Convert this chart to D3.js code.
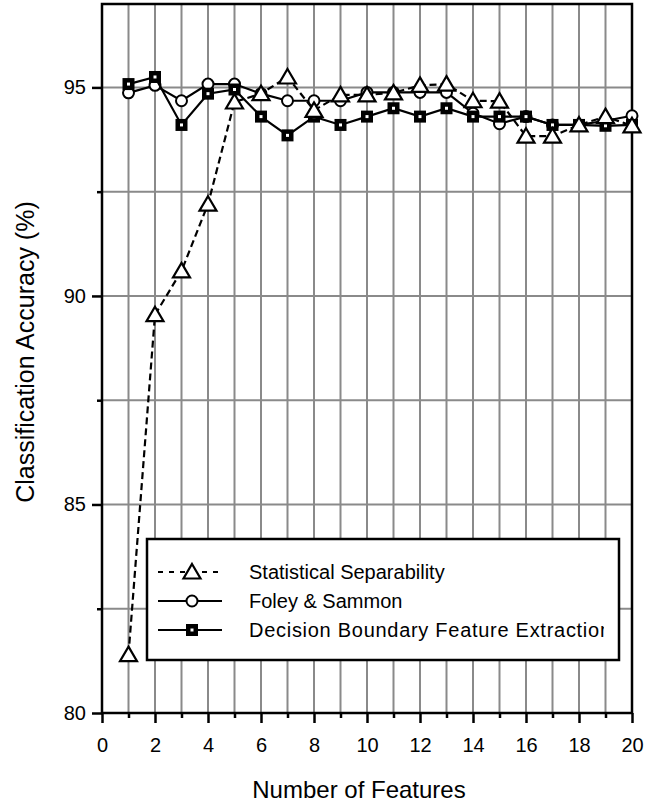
<!DOCTYPE html>
<html>
<head>
<meta charset="utf-8">
<script src="https://cdn.jsdelivr.net/npm/d3@7"></script>
<style>
  body { margin: 0; background: #fff; }
  text { font-family: "Liberation Sans", Arial, Helvetica, sans-serif; fill: #000; }
</style>
</head>
<body>
<div id="chart"></div>
<script>
// number of features on the x axis
var features = [1,2,3,4,5,6,7,8,9,10,11,12,13,14,15,16,17,18,19,20];

// classification accuracy (%) per method
var statSep = [81.4,89.55,90.6,92.2,94.65,94.85,95.25,94.45,94.82,94.82,94.87,95.05,95.08,94.68,94.67,93.83,93.83,94.1,94.3,94.08];
var foleySammon = [94.87,95.05,94.68,95.08,95.08,94.85,94.68,94.68,94.68,94.88,94.88,94.88,94.88,94.38,94.13,94.3,94.1,94.1,94.2,94.32];
var decisionBoundary = [95.08,95.25,94.1,94.85,94.95,94.3,93.85,94.3,94.1,94.3,94.5,94.3,94.5,94.3,94.3,94.3,94.1,94.1,94.08,94.1];

var legendLabels = ["Statistical Separability", "Foley & Sammon", "Decision Boundary Feature Extraction"];

var xMajorTicks = [0,2,4,6,8,10,12,14,16,18,20];
var xMinorTicks = [1,3,5,7,9,11,13,15,17,19];
var yMajorTicks = [80,85,90,95];
var yMinorTicks = [82.5,87.5,92.5];
var yGrid = [82.5,85,87.5,90,92.5,95];

var width = 651, height = 805;
var plotLeft = 102, plotRight = 632, plotTop = 4, plotBottom = 713;

var svg = d3.select("#chart").append("svg")
    .attr("width", width).attr("height", height);

var x = d3.scaleLinear().domain([0, 20]).range([plotLeft, plotRight]);
var y = d3.scaleLinear().domain([80, 97]).range([plotBottom, plotTop]);

// grid
var grid = svg.append("g").attr("class", "grid");
grid.selectAll("line.v").data(features.filter(function(d) { return d < 20; }))
  .enter().append("line")
    .attr("x1", function(d) { return x(d); }).attr("x2", function(d) { return x(d); })
    .attr("y1", plotTop).attr("y2", plotBottom)
    .style("stroke", "#8a8a8a").style("stroke-width", 2);
grid.selectAll("line.h").data(yGrid)
  .enter().append("line")
    .attr("y1", function(d) { return y(d); }).attr("y2", function(d) { return y(d); })
    .attr("x1", plotLeft).attr("x2", plotRight)
    .style("stroke", "#8a8a8a").style("stroke-width", 2);

// frame
svg.append("rect")
    .attr("x", plotLeft).attr("y", plotTop)
    .attr("width", plotRight - plotLeft).attr("height", plotBottom - plotTop)
    .attr("fill", "none").attr("stroke", "#000").attr("stroke-width", 2.5);

// axes
function styleAxis(g) {
  g.select(".domain").remove();
  g.selectAll(".tick line").attr("stroke", "#000").attr("stroke-width", 2.5);
  g.selectAll(".tick text").style("font-size", "20px");
}

svg.append("g").attr("transform", "translate(0," + plotBottom + ")")
    .call(d3.axisBottom(x).tickValues(xMajorTicks).tickSize(10).tickPadding(15).tickFormat(d3.format("d")))
    .call(styleAxis);
svg.append("g").attr("transform", "translate(0," + plotBottom + ")")
    .call(d3.axisBottom(x).tickValues(xMinorTicks).tickSize(5).tickFormat(""))
    .call(styleAxis);
svg.append("g").attr("transform", "translate(" + plotLeft + ",0)")
    .call(d3.axisLeft(y).tickValues(yMajorTicks).tickSize(10).tickPadding(6).tickFormat(d3.format("d")))
    .call(styleAxis);
svg.append("g").attr("transform", "translate(" + plotLeft + ",0)")
    .call(d3.axisLeft(y).tickValues(yMinorTicks).tickSize(5).tickFormat(""))
    .call(styleAxis);

// axis titles
svg.append("text")
    .attr("x", 359).attr("y", 798)
    .attr("text-anchor", "middle")
    .style("font-size", "24px")
    .text("Number of Features");
svg.append("text")
    .attr("transform", "translate(34,352) rotate(-90)")
    .attr("text-anchor", "middle")
    .style("font-size", "25px")
    .text("Classification Accuracy (%)");

// marker drawing
var triPath = "M0,-8 L8.5,6.5 L-8.5,6.5 Z";

function drawMarker(g, type) {
  if (type == "circle") {
    g.append("circle").attr("r", 5.5)
      .attr("fill", "#fff").attr("stroke", "#000").attr("stroke-width", 2);
  } else if (type == "square") {
    g.append("rect").attr("x", -6).attr("y", -6).attr("width", 12).attr("height", 12)
      .attr("fill", "#000");
    g.append("rect").attr("x", -1.5).attr("y", -1.5).attr("width", 3).attr("height", 3)
      .attr("fill", "#fff");
  } else {
    g.append("path").attr("d", triPath)
      .attr("fill", "#fff").attr("stroke", "#000").attr("stroke-width", 2.2)
      .attr("stroke-linejoin", "miter");
  }
}

var series = [
  {name: legendLabels[1], values: foleySammon, marker: "circle", dash: null},
  {name: legendLabels[2], values: decisionBoundary, marker: "square", dash: null},
  {name: legendLabels[0], values: statSep, marker: "triangle", dash: "7,4"}
];

var line = d3.line()
    .x(function(d) { return x(d[0]); })
    .y(function(d) { return y(d[1]); });

series.forEach(function(s) {
  var pts = features.map(function(f, i) { return [f, s.values[i]]; });
  svg.append("path")
      .datum(pts)
      .attr("d", line)
      .attr("fill", "none")
      .attr("stroke", "#000")
      .attr("stroke-width", 2.2)
      .attr("stroke-dasharray", s.dash);
  svg.append("g").selectAll("g")
    .data(pts)
    .enter().append("g")
      .attr("transform", function(d) { return "translate(" + x(d[0]) + "," + y(d[1]) + ")"; })
      .each(function() { drawMarker(d3.select(this), s.marker); });
});

// legend
var legend = svg.append("g");
legend.append("rect")
    .attr("x", 147).attr("y", 539).attr("width", 472).attr("height", 121)
    .attr("fill", "#fff").attr("stroke", "#000").attr("stroke-width", 2.5);

svg.append("clipPath").attr("id", "legclip")
  .append("rect").attr("x", 147).attr("y", 539).attr("width", 457).attr("height", 121);

var legendItems = [
  {label: legendLabels[0], marker: "triangle", dash: "5,6"},
  {label: legendLabels[1], marker: "circle", dash: null},
  {label: legendLabels[2], marker: "square", dash: null}
];

legendItems.forEach(function(item, i) {
  var ly = 572 + i * 29;
  legend.append("line")
      .attr("x1", 158).attr("x2", 222).attr("y1", ly).attr("y2", ly)
      .attr("stroke", "#000").attr("stroke-width", 2)
      .attr("stroke-dasharray", item.dash);
  var m = legend.append("g").attr("transform", "translate(192," + ly + ")");
  drawMarker(m, item.marker);
  var t = legend.append("text")
      .attr("x", 249).attr("y", ly + 7)
      .attr("clip-path", "url(#legclip)")
      .style("font-size", "20px")
      .text(item.label);
  // the long label runs past the box edge and gets cut there
  if (i == 2) t.attr("textLength", 362).attr("lengthAdjust", "spacing");
});
</script>
</body>
</html>
